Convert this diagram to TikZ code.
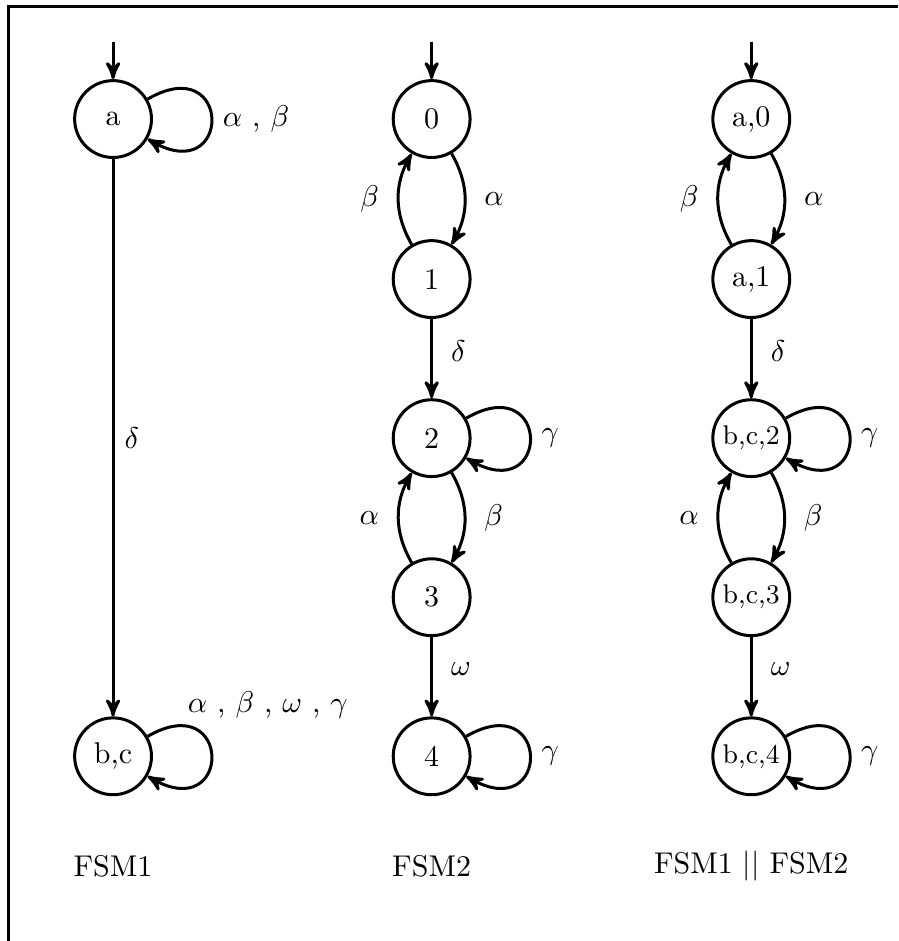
\documentclass[tikz,border=0pt]{standalone}
\usetikzlibrary{arrows}

\begin{document}
\begin{tikzpicture}[>=stealth',line width=1pt,
    fsmstate/.style={circle,draw,minimum size=9mm,inner sep=1pt},
    selfloop/.style={loop,out=30,in=-30,min distance=11.5mm,max distance=11.5mm},
    lbl/.style={inner sep=6pt}]
  \useasboundingbox (0,0) rectangle (10.52,-11.02);
  % frame
  \draw (0.094,-11.02) -- (0.094,-0.076) -- (10.52,-0.076);
  % FSM1
  \node[fsmstate] (a) at (1.324,-1.394) {a};
  \node[fsmstate] (bc) at (1.324,-8.857) {b,c};
  \coordinate (ain) at (1.324,-0.49);
  \draw[->] (ain) -- (a);
  \draw[->] (a) edge[selfloop] node[right] {$\alpha$ , $\beta$} (a)
            (a) edge node[right] {$\delta$} (bc)
            (bc) edge[selfloop] node[xshift=6.6mm,yshift=6mm] {$\alpha$ , $\beta$ , $\omega$ , $\gamma$} (bc);
  \node (fsm1) at (1.324,-10.14) {FSM1};
  % FSM2
  \node[fsmstate] (s0) at (5.055,-1.394) {0};
  \node[fsmstate] (s1) at (5.055,-3.268) {1};
  \node[fsmstate] (s2) at (5.055,-5.131) {2};
  \node[fsmstate] (s3) at (5.055,-6.994) {3};
  \node[fsmstate] (s4) at (5.055,-8.857) {4};
  \coordinate (s0in) at (5.055,-0.49);
  \draw[->] (s0in) -- (s0);
  \draw[->] (s0) edge[bend left=30] node[lbl,right] {$\alpha$} (s1)
            (s1) edge[bend left=30] node[lbl,left] {$\beta$} (s0)
            (s1) edge node[lbl,right,pos=0.4] {$\delta$} (s2)
            (s2) edge[selfloop] node[right] {$\gamma$} (s2)
            (s2) edge[bend left=30] node[lbl,right] {$\beta$} (s3)
            (s3) edge[bend left=30] node[lbl,left] {$\alpha$} (s2)
            (s3) edge node[lbl,right,pos=0.4] {$\omega$} (s4)
            (s4) edge[selfloop] node[right] {$\gamma$} (s4);
  \node (fsm2) at (5.055,-10.14) {FSM2};
  % FSM1 || FSM2
  \node[fsmstate] (a0) at (8.798,-1.394) {a,0};
  \node[fsmstate] (a1) at (8.798,-3.268) {a,1};
  \node[fsmstate,font=\small] (bc2) at (8.798,-5.131) {b,c,2};
  \node[fsmstate,font=\small] (bc3) at (8.798,-6.994) {b,c,3};
  \node[fsmstate,font=\small] (bc4) at (8.798,-8.857) {b,c,4};
  \coordinate (a0in) at (8.798,-0.49);
  \draw[->] (a0in) -- (a0);
  \draw[->] (a0) edge[bend left=30] node[lbl,right] {$\alpha$} (a1)
            (a1) edge[bend left=30] node[lbl,left] {$\beta$} (a0)
            (a1) edge node[lbl,right,pos=0.4] {$\delta$} (bc2)
            (bc2) edge[selfloop] node[right] {$\gamma$} (bc2)
            (bc2) edge[bend left=30] node[lbl,right] {$\beta$} (bc3)
            (bc3) edge[bend left=30] node[lbl,left] {$\alpha$} (bc2)
            (bc3) edge node[lbl,right,pos=0.4] {$\omega$} (bc4)
            (bc4) edge[selfloop] node[right] {$\gamma$} (bc4);
  \node (prod) at (8.798,-10.14) {FSM1 $||$ FSM2};
\end{tikzpicture}
\end{document}
